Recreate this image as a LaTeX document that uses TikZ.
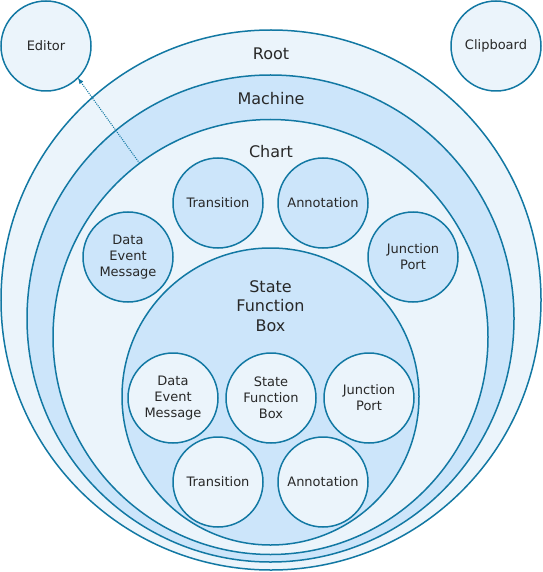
\documentclass[tikz,border=0pt]{standalone}
\usepackage{fontspec}
\setmainfont{DejaVu Sans}
\usetikzlibrary{positioning,arrows}

\definecolor{ringline}{RGB}{18,120,163}
\definecolor{palefill}{RGB}{235,244,251}
\definecolor{bluefill}{RGB}{204,229,250}
\definecolor{txt}{RGB}{40,40,40}

\begin{document}
\begin{tikzpicture}[x=1pt, y=-1pt, node distance = 8pt,
    ring/.style = {circle, draw=ringline, line width=1.5pt, inner sep=0pt, outer sep=0pt},
    palering/.style = {fill=palefill},
    bluering/.style = {fill=bluefill},
    small/.style = {ring, minimum size=90pt, align=center, text=txt,
                    font=\fontsize{13}{16}\selectfont},
    title/.style = {align=center, text=txt, font=\fontsize{16}{19.5}\selectfont}]
                    \useasboundingbox (0,0) rectangle (542,572);

                    % nested rings
                    \node [ring, palering, minimum size=540pt] (root) at (271,300) {};
                    \node [ring, bluering, minimum size=487pt] (machine) at (270.5,318.5) {};
                    \node [ring, palering, minimum size=435pt] (chart) at (270.5,337) {};
                    \node [ring, bluering, minimum size=297pt] (sfb) at (270.5,396.5) {};

                    \node [title] (rootlbl) at (271,53.5) {Root};
                    \node [title] (machinelbl) at (271,98.5) {Machine};
                    \node [title] (chartlbl) at (271,151.5) {Chart};
                    \node [title] (sfblbl) at (270.5,306) {State\\Function\\Box};

                    % chart children
                    \node [small, bluering] (trans) at (218,203) {Transition};
                    \node [small, bluering, right=15pt of trans] (annot) {Annotation};
                    \node [small, bluering] (dem) at (128,257) {Data\\Event\\Message};
                    \node [small, bluering] (jport) at (413,257) {Junction\\Port};

                    % state children
                    \node [small, palering] (dem2) at (173,398) {Data\\Event\\Message};
                    \node [small, palering, right=of dem2] (sfb2) {State\\Function\\Box};
                    \node [small, palering, right=of sfb2] (jport2) {Junction\\Port};
                    \node [small, palering] (trans2) at (218,482) {Transition};
                    \node [small, palering, right=15pt of trans2] (annot2) {Annotation};

                    % outside
                    \node [small, palering] (editor) at (46,46) {Editor};
                    \node [small, palering] (clip) at (496,46) {Clipboard};

                    \draw [-latex, ringline, line width=1.1pt, dash pattern=on 1pt off 1.2pt]
                        (chart.127) -- (editor.-45);
                \end{tikzpicture}
\end{document}
